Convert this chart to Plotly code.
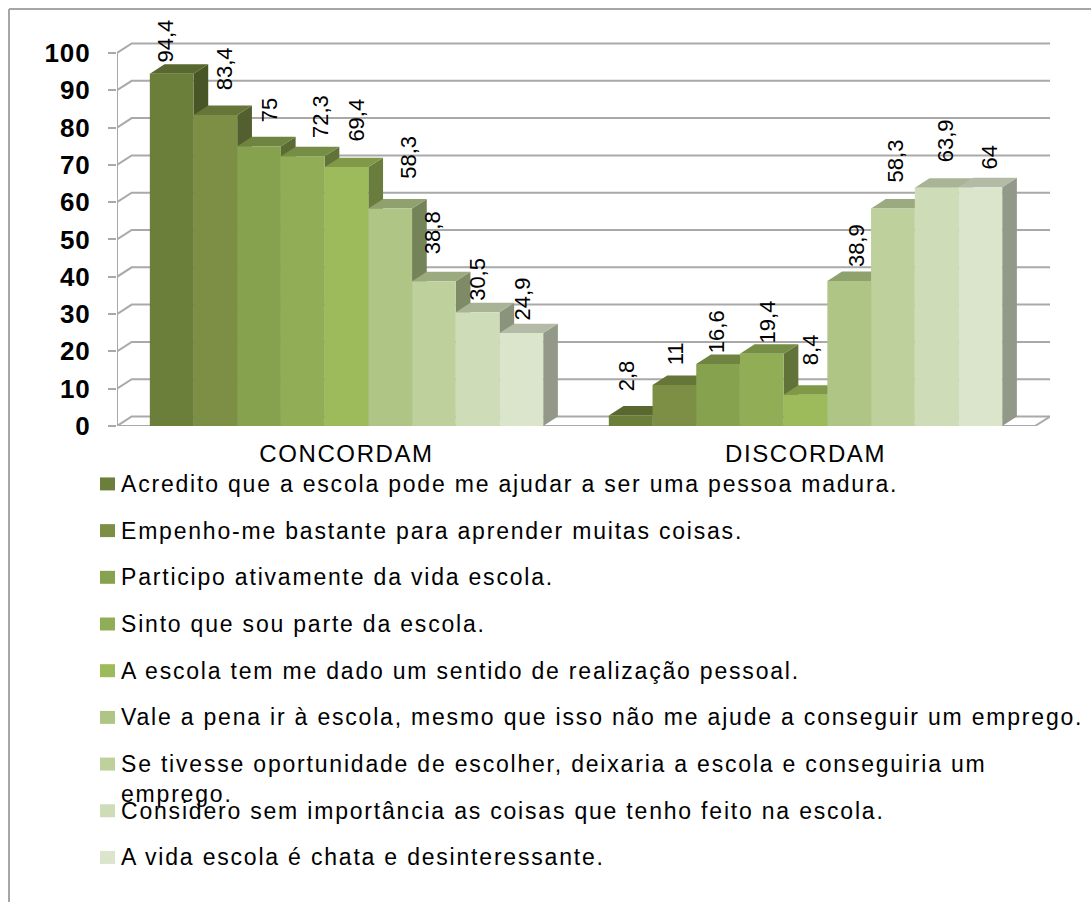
import plotly.graph_objects as go

W, H = 1091, 903
# Data
categories = ["CONCORDAM", "DISCORDAM"]
series_names = [
    "Acredito que a escola pode me ajudar a ser uma pessoa madura.",
    "Empenho-me bastante para aprender muitas coisas.",
    "Participo ativamente da vida escola.",
    "Sinto que sou parte da escola.",
    "A escola tem me dado um sentido de realização pessoal.",
    "Vale a pena ir à escola, mesmo que isso não me ajude a conseguir um emprego.",
    "Se tivesse oportunidade de escolher, deixaria a escola e conseguiria um<br>emprego.",
    "Considero sem importância as coisas que tenho feito na escola.",
    "A vida escola é chata e desinteressante.",
]
concordam = [94.4, 83.4, 75, 72.3, 69.4, 58.3, 38.8, 30.5, 24.9]
discordam = [2.8, 11, 16.6, 19.4, 8.4, 38.9, 58.3, 63.9, 64]
y_ticks = [0, 10, 20, 30, 40, 50, 60, 70, 80, 90, 100]

# Styles
colors = ["#6c7f3a", "#7d8f45", "#87a24f", "#91ad56", "#9dbb5a",
          "#afc585", "#bed09b", "#cfdcb8", "#dbe5cc"]
top_factor, side_factor = 0.82, 0.67

# Hand-placed data label offsets (px, from top-centre of bar front)
label_dx = [[-6, 10, 10, 18, 10, 18, -2, 0, 1], [-4, 2, -2, 6, 5, 8, 3, 9, 9]]
label_dy = [[33, 46, 36, 40, 47, 51, 49, 33, 34], [40, 31, 32, 32, 45, 35, 48, 47, 30]]

# Layout geometry
plot_l, plot_r, y0_px = 117, 1050, 426.5
plot_t = 30
px_per_cat = 459.0
px_per_val = 3.735
x_max = (plot_r - plot_l) / px_per_cat
y_max = (y0_px - plot_t) / px_per_val
depth_x = 14.7 / px_per_cat
depth_y = 9.5 / px_per_val
group_width = 0.857
bar_w = group_width / len(colors)
GRID = "#a9a9a9"
FONT = "Liberation Sans"


def shade(hex_color, f):
    r, g, b = (int(hex_color[i:i + 2], 16) for i in (1, 3, 5))
    return f"rgb({int(r * f)},{int(g * f)},{int(b * f)})"


fig = go.Figure()

# Back wall gridlines + floor
gx, gy = [], []
for v in y_ticks:
    gx += [0, depth_x, x_max, None]
    gy += [v, v + depth_y, v + depth_y, None]
gx += [0, 2, x_max, None]
gy += [0, 0, depth_y, None]
fig.add_trace(go.Scatter(x=gx, y=gy, mode="lines", line=dict(color=GRID, width=2),
                         hoverinfo="skip", showlegend=False))
# Left wall
fig.add_trace(go.Scatter(x=[0, 0], y=[-1.6, 100], mode="lines", line=dict(color=GRID, width=2),
                         cliponaxis=False, hoverinfo="skip", showlegend=False))

# Depth faces, painted left to right
for s, col in enumerate(colors):
    vals = [concordam[s], discordam[s]]
    sx, sy, tx, ty = [], [], [], []
    for c, v in enumerate(vals):
        left = c + 0.5 - group_width / 2 + s * bar_w
        right = left + bar_w
        sx += [right, right + depth_x, right + depth_x, right, right, None]
        sy += [0, depth_y, v + depth_y, v, 0, None]
        tx += [left, left + depth_x, right + depth_x, right, left, None]
        ty += [v, v + depth_y, v + depth_y, v, v, None]
    fig.add_trace(go.Scatter(x=sx, y=sy, mode="lines", fill="toself", line=dict(width=0),
                             fillcolor=shade(col, side_factor), hoverinfo="skip", showlegend=False))
    fig.add_trace(go.Scatter(x=tx, y=ty, mode="lines", fill="toself", line=dict(width=0),
                             fillcolor=shade(col, top_factor), hoverinfo="skip", showlegend=False))

# Front faces on an overlay axis so they sit above the depth faces
for s, col in enumerate(colors):
    fig.add_trace(go.Bar(x=[0.5, 1.5], y=[concordam[s], discordam[s]],
                         name=series_names[s].replace("<br>", " "),
                         marker=dict(color=col, line=dict(width=0)),
                         xaxis="x2", yaxis="y2", showlegend=False))

annotations = []
for c, vals in enumerate([concordam, discordam]):
    for s, v in enumerate(vals):
        xc = c + 0.5 - group_width / 2 + (s + 0.5) * bar_w
        annotations.append(dict(
            x=xc, y=v, xref="x", yref="y", text=str(v).replace(".", ","), textangle=-90,
            showarrow=False, xanchor="center", yanchor="middle",
            xshift=label_dx[c][s], yshift=label_dy[c][s],
            font=dict(family=FONT, size=22, color="#000000")))

# Manual legend (swatch + text) in paper coordinates
pw, ph = W - plot_l - (W - plot_r), H - plot_t - (H - y0_px)


def px(x):
    return (x - plot_l) / pw


def py(y):
    return (y0_px - y) / ph


legend_first = 484.5
legend_step = 46.75
shapes = [
    dict(type="line", xref="paper", yref="paper", x0=px(9), x1=px(W), y0=py(9), y1=py(9),
         line=dict(color="#a6a6a6", width=2)),
    dict(type="line", xref="paper", yref="paper", x0=px(9), x1=px(9), y0=py(9), y1=py(H),
         line=dict(color="#a6a6a6", width=2)),
]
for s, name in enumerate(series_names):
    yc = legend_first + s * legend_step
    shapes.append(dict(type="rect", xref="paper", yref="paper", x0=px(100), x1=px(115),
                       y0=py(yc - 6.5), y1=py(yc + 6.5), fillcolor=colors[s], line=dict(width=0)))
    annotations.append(dict(x=px(120), y=py(yc - 14), xref="paper", yref="paper", text=name,
                            showarrow=False, xanchor="left", yanchor="top", align="left",
                            borderpad=0, font=dict(family=FONT, size=23, color="#000000")))

fig.update_layout(
    width=W, height=H, paper_bgcolor="white", plot_bgcolor="rgba(0,0,0,0)",
    margin=dict(l=plot_l, r=W - plot_r, t=plot_t, b=H - y0_px, autoexpand=False),
    barmode="group", bargap=1 - group_width, bargroupgap=0,
    shapes=shapes, annotations=annotations, showlegend=False,
    xaxis=dict(range=[0, x_max], tickmode="array", tickvals=[0.5, 1.5], ticktext=categories,
               showgrid=False, zeroline=False, showline=False, ticks="", ticklabelstandoff=11,
               tickfont=dict(family=FONT, size=24, color="#000000")),
    yaxis=dict(range=[0, y_max], tickmode="array", tickvals=y_ticks, showgrid=False,
               zeroline=False, showline=False, ticks="outside", ticklen=8, tickwidth=1.5,
               tickcolor=GRID, ticklabelstandoff=12,
               tickfont=dict(family=FONT, size=26, color="#000000", weight="bold")),
    xaxis2=dict(range=[0, x_max], overlaying="x", visible=False),
    yaxis2=dict(range=[0, y_max], overlaying="y", visible=False),
)

post = """
document.body.style.margin='0';document.body.style.overflow='hidden';
document.querySelectorAll('.annotation-text').forEach(function(t){
  if(t.textContent.length>8){t.style.letterSpacing='1.8px';}
});
document.querySelectorAll('.xtick text').forEach(function(t){t.style.letterSpacing='1.6px';});
document.querySelectorAll('.ytick text').forEach(function(t){t.style.letterSpacing='1px';});
"""
fig.write_html("out.html", config={"displayModeBar": False}, post_script=post)
